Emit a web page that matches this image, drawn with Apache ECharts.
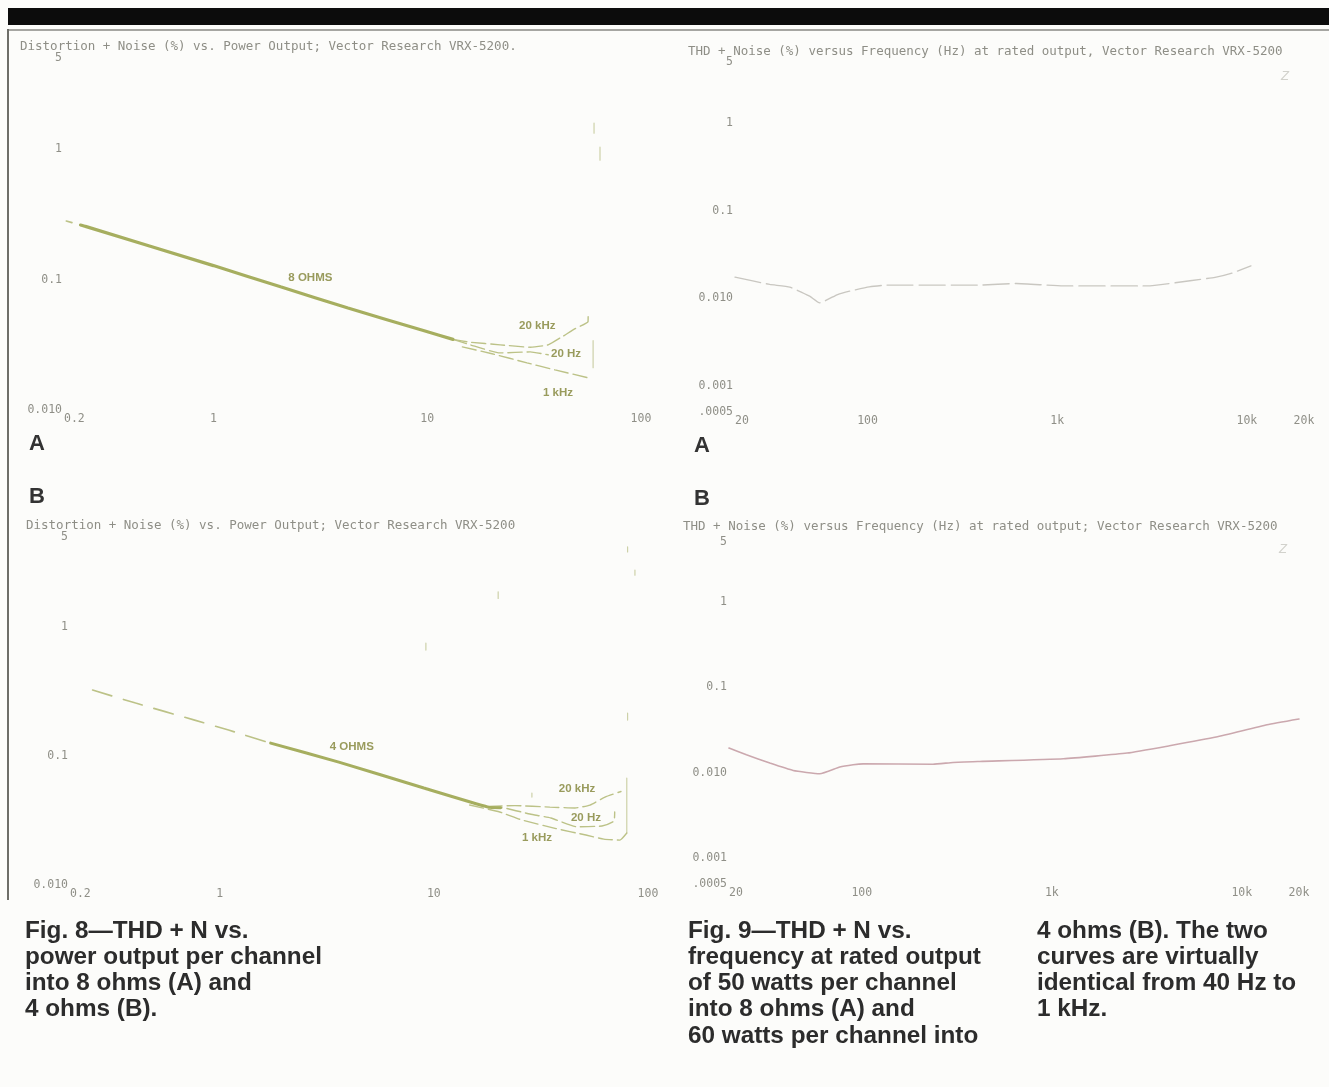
<!DOCTYPE html>
<html>
<head>
<meta charset="utf-8">
<title>Vector Research VRX-5200 — THD + N</title>
<script src="https://cdn.jsdelivr.net/npm/echarts@6/dist/echarts.min.js"></script>
<style>
  html, body { margin: 0; padding: 0; background: #fcfcfa; }
  #chart { width: 1329px; height: 1087px; }
</style>
</head>
<body>
<div id="chart"></div>
<script>
// ---------- Fig. 8A: THD+N (%) vs power output (W), 8 ohms ----------
const p8Lead = [[0.205, 0.281], [0.239, 0.262]];
const p8Main = [[0.239, 0.262], [0.252, 0.2557], [1.0, 0.128], [2.06, 0.088], [4.26, 0.0605], [9.68, 0.0405], [13.2, 0.0348]];
const p8Hi   = [[13.2, 0.0348], [15.88, 0.0331], [21.93, 0.0316], [30.3, 0.0303], [36.8, 0.0316], [42.7, 0.0364], [49.2, 0.042], [56.5, 0.0475], [56.6, 0.0529]];
const p8Lo   = [[13.2, 0.0348], [15.88, 0.0316], [21.93, 0.0274], [30.3, 0.0279], [36.8, 0.0265]];
const p8Mid  = [[14.6, 0.0305], [20.1, 0.027], [29.3, 0.023], [39.6, 0.0203], [57.1, 0.0176]];
const p8Clip = [[59.7, 0.034], [59.7, 0.0211], '-', [60.3, 1.585], [60.3, 1.327], '-', [64.3, 1.036], [64.3, 0.823]];
const p8Notes = [
  { name: '8 OHMS', value: [2.84, 0.1036] },
  { name: '20 kHz', value: [32.7, 0.0443] },
  { name: '20 Hz',  value: [44.6, 0.027] },
  { name: '1 kHz',  value: [40.9, 0.0135] }
];

// ---------- Fig. 8B: THD+N (%) vs power output (W), 4 ohms ----------
const p4Lead = [[0.255, 0.325], [0.405, 0.2575], [0.764, 0.190], [1.10, 0.159], [1.73, 0.126]];
const p4Main = [[1.73, 0.126], [3.6, 0.0898], [8.98, 0.0565], [17.9, 0.0402], [20.5, 0.0398]];
const p4Hi   = [[17.9, 0.0406], [23.9, 0.0413], [34.8, 0.0402], [45.6, 0.0396], [53.6, 0.0417], [63.0, 0.0481], [74.8, 0.0531]];
const p4Lo   = [[17.9, 0.0402], [21.5, 0.0395], [28.1, 0.0355], [35.2, 0.0331], [46.6, 0.0283], [61.0, 0.0287], [69.3, 0.0313], [69.9, 0.0368]];
const p4Mid  = [[14.7, 0.0417], [20.3, 0.0368], [25.8, 0.0319], [37.2, 0.0274], [51.3, 0.0244], [62.2, 0.0227], [73.9, 0.0223], [79.6, 0.0253]];
const p4Clip = [[79.6, 0.0253], [79.6, 0.0676], '-', [80.3, 0.2157], [80.3, 0.190], '-', [80.3, 4.19], [80.3, 3.83], '-',
                [86.9, 2.77], [86.9, 2.53], '-', [19.97, 1.877], [19.97, 1.669], '-', [9.18, 0.751], [9.18, 0.664], '-',
                [28.7, 0.0516], [28.7, 0.0481]];
const p4Notes = [
  { name: '4 OHMS', value: [4.14, 0.1174] },
  { name: '20 kHz', value: [46.6, 0.0555] },
  { name: '20 Hz',  value: [51.3, 0.0331] },
  { name: '1 kHz',  value: [30.3, 0.0231] }
];

// ---------- Fig. 9: THD+N (%) vs frequency (Hz) at rated output ----------
const f8Curve = [[20, 0.0174], [30.5, 0.01435], [38.9, 0.01336], [49.5, 0.01054], [55.9, 0.00884], [69.5, 0.0110], [80.4, 0.01202],
                 [102, 0.01346], [126, 0.0141], [388, 0.0141], [608, 0.0147], [1076, 0.0138], [2978, 0.0138], [5012, 0.0158],
                 [6792, 0.0173], [8337, 0.0193], [10500, 0.0234]];
const f4Curve = [[20, 0.01945], [24.7, 0.01624], [32.8, 0.01297], [43.5, 0.01064], [60.1, 0.00973], [76.6, 0.01166], [90, 0.0124],
                 [101.6, 0.0127], [237, 0.0126], [302, 0.0132], [418, 0.01355], [1151, 0.01458], [2490, 0.0170], [4165, 0.0207],
                 [7328, 0.02615], [13580, 0.0364], [20000, 0.0425]];

// ---------- axis tick labels ----------
const powerTicks    = [[0.2, '0.2'], [1, '1'], [10, '10'], [100, '100']];
const pctPowerTicks = [[0.01, '0.010'], [0.1, '0.1'], [1, '1'], [5, '5']];
const freqTicks     = [[20, '20'], [100, '100'], [1000, '1k'], [10000, '10k'], [20000, '20k']];
const pctFreqTicks  = [[0.0005, '.0005'], [0.001, '0.001'], [0.01, '0.010'], [0.1, '0.1'], [1, '1'], [5, '5']];

// ---------- text ----------
const titles = [
  'Distortion + Noise (%) vs. Power Output; Vector Research VRX-5200.',
  'THD + Noise (%) versus Frequency (Hz) at rated output, Vector Research VRX-5200',
  'Distortion + Noise (%) vs. Power Output; Vector Research VRX-5200',
  'THD + Noise (%) versus Frequency (Hz) at rated output; Vector Research VRX-5200'
];
const caption8 = ['Fig. 8\u2014THD + N vs.', 'power output per channel', 'into 8 ohms (A) and', '4 ohms (B).'];
const caption9a = ['Fig. 9\u2014THD + N vs.', 'frequency at rated output', 'of 50 watts per channel', 'into 8 ohms (A) and', '60 watts per channel into'];
const caption9b = ['4 ohms (B). The two', 'curves are virtually', 'identical from 40 Hz to', '1 kHz.'];

const MONO = '"DejaVu Sans Mono", "Liberation Mono", monospace';
const SANS = '"Liberation Sans", Arial, Helvetica, sans-serif';
const TICK_GRAY = '#8f8f87';

function tickFormatter(list) {
  return function (v) {
    for (const [t, s] of list) {
      if (Math.abs(Math.log10(v) - Math.log10(t)) < 0.02) return s;
    }
    return '';
  };
}

function xAxis(idx, min, max, ticks) {
  return {
    type: 'log', logBase: 10, gridIndex: idx, min: min, max: max,
    axisLine: { show: false }, axisTick: { show: false }, splitLine: { show: false }, minorTick: { show: false },
    axisLabel: {
      show: true, margin: 3, showMinLabel: true, showMaxLabel: true, alignMinLabel: 'left',
      fontFamily: MONO, fontSize: 11.5, color: TICK_GRAY, formatter: tickFormatter(ticks)
    }
  };
}
function yAxis(idx, min, max, ticks) {
  return {
    type: 'log', logBase: 10, gridIndex: idx, min: min, max: max,
    axisLine: { show: false }, axisTick: { show: false }, splitLine: { show: false }, minorTick: { show: false },
    axisLabel: {
      show: true, margin: 2, showMinLabel: true, showMaxLabel: true,
      fontFamily: MONO, fontSize: 11.5, color: TICK_GRAY, formatter: tickFormatter(ticks)
    }
  };
}

const OLIVE = '#a6ae5f';
const OLIVE_LIGHT = '#bcc287';
const NOTE = '#7f8234';

function line(idx, data, color, width, type, z) {
  return {
    type: 'line', xAxisIndex: idx, yAxisIndex: idx, data: data, showSymbol: false, symbol: 'none',
    smooth: 0.15, connectNulls: false, silent: true, animation: false, z: z || 2,
    lineStyle: { color: color, width: width, type: type || 'solid', cap: 'round' }
  };
}
function straight(idx, data, color, width) {
  const s = line(idx, data, color, width, 'solid', 1);
  s.smooth = false;
  return s;
}
function notes(idx, data) {
  return {
    type: 'scatter', xAxisIndex: idx, yAxisIndex: idx, data: data, symbol: 'circle', symbolSize: 1,
    itemStyle: { color: 'rgba(0,0,0,0)' }, silent: true, animation: false, z: 5,
    label: { show: true, position: 'inside', formatter: '{b}', fontFamily: SANS, fontWeight: 'bold', fontSize: 11.5, color: NOTE }
  };
}

function textLines(x, y, lines, font, fill, lh) {
  return {
    type: 'text', x: x, y: y, silent: true,
    style: { text: lines.join('\n'), font: font, fill: fill, lineHeight: lh, textVerticalAlign: 'top', verticalAlign: 'top' }
  };
}
function monoTitle(x, y, text) {
  return {
    type: 'text', x: x, y: y, silent: true,
    style: { text: text, font: '12.5px ' + MONO, fill: '#8e8e86', textVerticalAlign: 'middle', verticalAlign: 'middle' }
  };
}
function panelLetter(x, y, ch) {
  return {
    type: 'text', x: x, y: y, silent: true,
    style: { text: ch, font: 'bold 22px ' + SANS, fill: '#333333', textAlign: 'center', align: 'center', textVerticalAlign: 'middle', verticalAlign: 'middle' }
  };
}
function zlMark(x, y) {
  return {
    type: 'text', x: x, y: y, silent: true,
    style: { text: 'Z', font: 'italic 13px ' + SANS, fill: '#d2d2cc', textVerticalAlign: 'middle', verticalAlign: 'middle' }
  };
}

const chart = echarts.init(document.getElementById('chart'), null, { renderer: 'canvas' });

chart.setOption({
  backgroundColor: '#fcfcfa',
  animation: false,
  grid: [
    { left: 64,  top: 58,  width: 577, height: 352 },
    { left: 735, top: 62,  width: 569, height: 350 },
    { left: 70,  top: 537, width: 578, height: 348 },
    { left: 729, top: 542, width: 570, height: 342 }
  ],
  xAxis: [
    xAxis(0, 0.2, 100, powerTicks),
    xAxis(1, 20, 20000, freqTicks),
    xAxis(2, 0.2, 100, powerTicks),
    xAxis(3, 20, 20000, freqTicks)
  ],
  yAxis: [
    yAxis(0, 0.01, 5, pctPowerTicks),
    yAxis(1, 0.0005, 5, pctFreqTicks),
    yAxis(2, 0.01, 5, pctPowerTicks),
    yAxis(3, 0.0005, 5, pctFreqTicks)
  ],
  series: [
    // 8 ohms, power sweep
    line(0, p8Lead, OLIVE_LIGHT, 1.6, [6, 10]),
    line(0, p8Main, OLIVE, 3.2, 'solid', 3),
    line(0, p8Hi,  OLIVE_LIGHT, 1.4, [14, 5]),
    line(0, p8Lo,  OLIVE_LIGHT, 1.4, [14, 5]),
    line(0, p8Mid, OLIVE_LIGHT, 1.4, [14, 5]),
    straight(0, p8Clip, '#cdd1a8', 1.2),
    notes(0, p8Notes),
    // 8 ohms, frequency sweep
    line(1, f8Curve, '#c9c7c1', 1.4, [26, 6]),
    // 4 ohms, power sweep
    line(2, p4Lead, OLIVE_LIGHT, 1.6, [20, 12]),
    line(2, p4Main, OLIVE, 3, 'solid', 3),
    line(2, p4Hi,  OLIVE_LIGHT, 1.4, [14, 5]),
    line(2, p4Lo,  OLIVE_LIGHT, 1.4, [14, 5]),
    line(2, p4Mid, OLIVE_LIGHT, 1.4, [14, 5]),
    straight(2, p4Clip, '#cdd1a8', 1.2),
    notes(2, p4Notes),
    // 4 ohms, frequency sweep
    line(3, f4Curve, '#cba8ae', 1.6, 'solid')
  ],
  graphic: [
    { type: 'rect', shape: { x: 8, y: 8, width: 1321, height: 17 }, style: { fill: '#0c0c0c' }, silent: true },
    { type: 'line', shape: { x1: 8, y1: 30, x2: 1329, y2: 30 }, style: { stroke: '#8a8a84', lineWidth: 1.5 }, silent: true },
    { type: 'line', shape: { x1: 8, y1: 29, x2: 8, y2: 900 }, style: { stroke: '#6e6e68', lineWidth: 2 }, silent: true },
    monoTitle(20, 47, titles[0]),
    monoTitle(688, 52, titles[1]),
    monoTitle(26, 526, titles[2]),
    monoTitle(683, 527, titles[3]),
    zlMark(1281, 76),
    zlMark(1279, 549),
    panelLetter(37, 444, 'A'),
    panelLetter(702, 446, 'A'),
    panelLetter(37, 497, 'B'),
    panelLetter(702, 499, 'B'),
    textLines(25, 918, caption8, 'bold 24.3px ' + SANS, '#2c2c2c', 26),
    textLines(688, 918, caption9a, 'bold 24.3px ' + SANS, '#2c2c2c', 26.2),
    textLines(1037, 918, caption9b, 'bold 24.3px ' + SANS, '#2c2c2c', 26)
  ]
});
</script>
</body>
</html>
